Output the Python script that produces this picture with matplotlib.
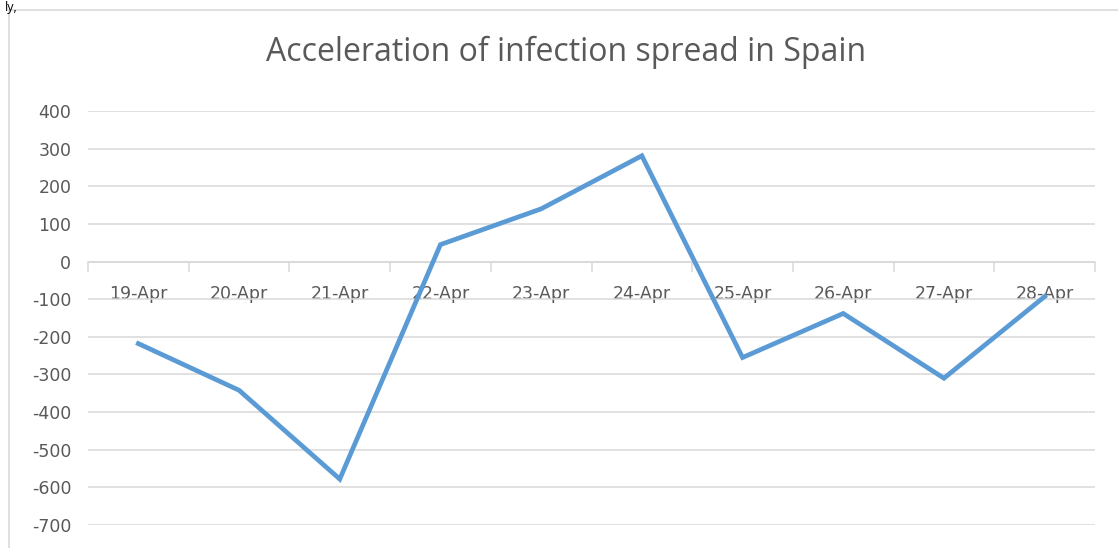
import matplotlib.pyplot as plt
from matplotlib.patches import Rectangle

# data
dates = ['19-Apr', '20-Apr', '21-Apr', '22-Apr', '23-Apr',
         '24-Apr', '25-Apr', '26-Apr', '27-Apr', '28-Apr']
accel = [-218, -342, -578, 45, 140, 281, -255, -138, -310, -93]
yticks = list(range(-700, 401, 100))

plt.rcParams['font.family'] = ['Open Sans', 'DejaVu Sans']
grey = '#595959'
grid_col = '#D9D9D9'

fig = plt.figure(figsize=(11.18, 5.48), dpi=100)
ax = fig.add_axes([88 / 1118, 1 - 525 / 548, (1095 - 88) / 1118, (525 - 111) / 548])

# chart frame (cropped at right / bottom)
fig.patches.append(Rectangle((9 / 1118, -0.1), 1.2, 1 - 10 / 548 + 0.1,
                             transform=fig.transFigure, fill=False,
                             edgecolor=grid_col, linewidth=1.2))
fig.text(0.004, 0.999, 'ly,', fontsize=9, color='black', va='top', ha='left')

x = list(range(len(dates)))
ax.plot(x, accel, color='#5B9BD5', linewidth=3.4, solid_joinstyle='miter', zorder=3)

ax.set_xlim(-0.5, len(dates) - 0.5)
ax.set_ylim(-700, 400)
ax.set_yticks(yticks)
ax.set_yticklabels([str(v) for v in yticks], family='DejaVu Sans')
ax.grid(axis='y', color=grid_col, linewidth=1.1)
ax.set_axisbelow(True)

for s in ['top', 'right', 'left']:
    ax.spines[s].set_visible(False)
ax.spines['bottom'].set_position(('data', 0))
ax.spines['bottom'].set_color(grid_col)
ax.spines['bottom'].set_linewidth(1.1)

ax.set_xticks(x)
ax.set_xticklabels(dates, family='DejaVu Sans')
ax.set_xticks([i - 0.5 for i in range(len(dates) + 1)], minor=True)
ax.tick_params(axis='x', which='major', length=0, pad=17, labelsize=12.5, labelcolor=grey)
ax.tick_params(axis='x', which='minor', length=7, width=1.1, color=grid_col, direction='out')
ax.tick_params(axis='y', length=0, pad=12, labelsize=12.5, labelcolor=grey)

fig.text(0.506, 1 - 52 / 548, 'Acceleration of infection spread in Spain',
         fontsize=23, color=grey, ha='center', va='center')

fig.savefig('out.png', dpi=100)
